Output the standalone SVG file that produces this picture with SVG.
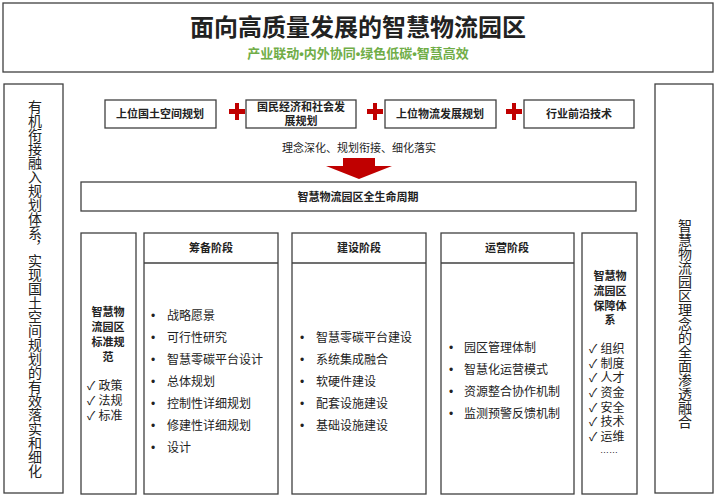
<svg xmlns="http://www.w3.org/2000/svg" width="716" height="497" viewBox="0 0 716 497">
<style>
text{font-family:"Liberation Sans","Noto Sans CJK SC",sans-serif;fill:#222}
.b{fill:#fff;stroke:#404040;stroke-width:1.3}
.h{font-weight:bold;font-size:11px;text-anchor:middle}
.t{font-size:12px}
.v{font-size:14px;writing-mode:vertical-rl;text-anchor:middle}
.x{fill:#C00000}
</style>
<rect width="716" height="497" fill="#fff"/>
<g id="header"><rect class="b" x="3" y="3" width="710" height="69"/>
<text x="358" y="36" font-size="24" font-weight="bold" text-anchor="middle">面向高质量发展的智慧物流园区</text>
<text x="358" y="58" font-size="13" font-weight="bold" text-anchor="middle" style="fill:#70AD47">产业联动•内外协同•绿色低碳•智慧高效</text></g>
<g id="left"><rect class="b" x="4" y="84" width="59" height="409"/>
<text class="v" x="34" y="289">有机衔接融入规划体系，实现国土空间规划的有效落实和细化</text></g>
<g id="right"><rect class="b" x="655" y="84" width="58" height="409"/>
<text class="v" x="684" y="324">智慧物流园区理念的全面渗透融合</text></g>
<g id="inputs">
<rect class="b" x="105" y="100" width="111" height="28"/><text class="h" x="160" y="118">上位国土空间规划</text>
<rect class="b" x="246" y="100" width="110" height="28"/><text class="h" x="301" y="111">国民经济和社会发</text><text class="h" x="301" y="125">展规划</text>
<rect class="b" x="385" y="100" width="111" height="28"/><text class="h" x="440" y="118">上位物流发展规划</text>
<rect class="b" x="524" y="100" width="110" height="28"/><text class="h" x="579" y="118">行业前沿技术</text>
<path class="x" d="M229 109h6v-6h4v6h6v5h-6v6h-4v-6h-6z"/>
<path class="x" d="M367 109h6v-6h4v6h6v5h-6v6h-4v-6h-6z"/>
<path class="x" d="M506 109h6v-6h4v6h6v5h-6v6h-4v-6h-6z"/>
</g>
<g id="connectors">
<text x="359" y="152" font-size="11" text-anchor="middle">理念深化、规划衔接、细化落实</text>
<path class="x" d="M343 158h32v8h17l-33 13l-33-13h17z"/>
</g>
<g id="lifecycle"><rect class="b" x="81" y="182" width="555" height="29"/><text class="h" x="358" y="201">智慧物流园区全生命周期</text></g>
<g id="standard"><rect class="b" x="81" y="233" width="55" height="261"/>
<text class="h" x="108" y="316">智慧物</text><text class="h" x="108" y="331">流园区</text><text class="h" x="108" y="346">标准规</text><text class="h" x="108" y="361">范</text>
<text class="t" x="87" y="390">✓  政策</text><text class="t" x="87" y="405">✓  法规</text><text class="t" x="87" y="420">✓  标准</text></g>
<g id="stage1"><rect class="b" x="144" y="233" width="134" height="261"/><line x1="144" y1="263" x2="278" y2="263" stroke="#404040" stroke-width="1.3"/>
<text class="h" x="211" y="252">筹备阶段</text>
<g class="t"><text x="151" y="320">•</text><text x="167" y="320">战略愿景</text>
<text x="151" y="342">•</text><text x="167" y="342">可行性研究</text>
<text x="151" y="364">•</text><text x="167" y="364">智慧零碳平台设计</text>
<text x="151" y="386">•</text><text x="167" y="386">总体规划</text>
<text x="151" y="408">•</text><text x="167" y="408">控制性详细规划</text>
<text x="151" y="430">•</text><text x="167" y="430">修建性详细规划</text>
<text x="151" y="452">•</text><text x="167" y="452">设计</text></g></g>
<g id="stage2"><rect class="b" x="292" y="233" width="134" height="261"/><line x1="292" y1="263" x2="426" y2="263" stroke="#404040" stroke-width="1.3"/>
<text class="h" x="359" y="252">建设阶段</text>
<g class="t"><text x="300" y="342">•</text><text x="316" y="342">智慧零碳平台建设</text>
<text x="300" y="364">•</text><text x="316" y="364">系统集成融合</text>
<text x="300" y="386">•</text><text x="316" y="386">软硬件建设</text>
<text x="300" y="408">•</text><text x="316" y="408">配套设施建设</text>
<text x="300" y="430">•</text><text x="316" y="430">基础设施建设</text></g></g>
<g id="stage3"><rect class="b" x="441" y="233" width="133" height="261"/><line x1="441" y1="263" x2="574" y2="263" stroke="#404040" stroke-width="1.3"/>
<text class="h" x="507" y="252">运营阶段</text>
<g class="t"><text x="449" y="352">•</text><text x="464" y="352">园区管理体制</text>
<text x="449" y="374">•</text><text x="464" y="374">智慧化运营模式</text>
<text x="449" y="396">•</text><text x="464" y="396">资源整合协作机制</text>
<text x="449" y="418">•</text><text x="464" y="418">监测预警反馈机制</text></g></g>
<g id="guarantee"><rect class="b" x="582" y="233" width="55" height="261"/>
<text class="h" x="610" y="280">智慧物</text><text class="h" x="610" y="295">流园区</text><text class="h" x="610" y="310">保障体</text><text class="h" x="610" y="324">系</text>
<g class="t"><text x="589" y="353">✓  组织</text><text x="589" y="368">✓  制度</text><text x="589" y="382">✓  人才</text><text x="589" y="397">✓  资金</text><text x="589" y="412">✓  安全</text><text x="589" y="426">✓  技术</text><text x="589" y="441">✓  运维</text>
<text x="600" y="453" font-size="9">……</text></g></g>
</svg>
